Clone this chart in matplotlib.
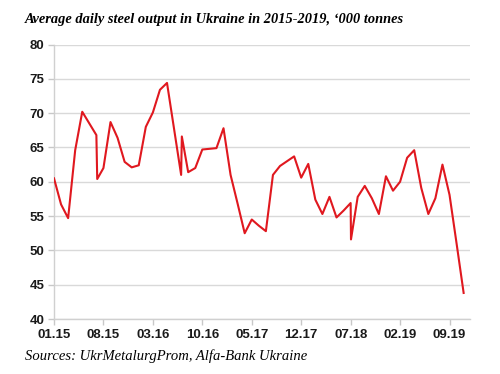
import matplotlib.pyplot as plt

# month offsets from 01.15 (a few months carry two readings, as in the source)
months = [0, 1, 2, 3, 4, 5, 6, 6.12, 7, 8, 9, 10, 11, 12, 13, 14, 15, 16, 17,
          18, 18.1, 19, 20, 21, 22, 23, 24, 25, 26, 27, 28, 29, 30, 31, 32,
          33, 34, 35, 36, 37, 38, 39, 40, 41, 42, 42.05, 43, 44, 45, 46, 47,
          48, 49, 50, 51, 52, 53, 54, 55, 56, 57, 58]
output = [60.5, 56.7, 54.7, 64.6, 70.2, 68.5, 66.8, 60.4, 62.0, 68.7, 66.4,
          62.9, 62.1, 62.4, 68.0, 70.1, 73.4, 74.4, 67.7,
          61.0, 66.6, 61.4, 62.0, 64.7, 64.8, 64.9, 67.8, 61.0, 56.8, 52.5,
          54.5, 53.6, 52.8, 61.0, 62.3, 63.0, 63.7, 60.6, 62.6, 57.4, 55.3,
          57.8, 54.8, 55.8, 56.9, 51.6, 57.8, 59.4, 57.6, 55.3, 60.8, 58.7,
          60.0, 63.5, 64.6, 59.1, 55.3, 57.6, 62.5, 58.1, 51.0, 43.8]

tick_pos = [0, 7, 14, 21, 28, 35, 42, 49, 56]
tick_labels = ['01.15', '08.15', '03.16', '10.16', '05.17', '12.17', '07.18', '02.19', '09.19']
y_ticks = [40, 45, 50, 55, 60, 65, 70, 75, 80]

fig = plt.figure(figsize=(5, 3.74), dpi=100)
ax = fig.add_axes([0.108, 0.147, 0.832, 0.734])

ax.plot(months, output, color='#e0181f', linewidth=1.5, zorder=3)

ax.set_xlim(0, 58.9)
ax.set_ylim(40, 80)
ax.set_yticks(y_ticks)
ax.set_xticks(tick_pos)
ax.set_xticklabels(tick_labels)
ax.grid(axis='y', color='#d9d9d9', linewidth=1)
ax.set_axisbelow(True)

for s in ['top', 'right']:
    ax.spines[s].set_visible(False)
for s in ['left', 'bottom']:
    ax.spines[s].set_color('#d0d0d0')
    ax.spines[s].set_linewidth(1)

ax.tick_params(axis='both', colors='#c8c8c8', length=4, width=1,
               labelcolor='#1a1a1a', labelsize=9.5)
ax.tick_params(axis='y', pad=3)
ax.tick_params(axis='x', pad=3)
for lab in ax.get_xticklabels() + ax.get_yticklabels():
    lab.set_fontweight('bold')
    lab.set_family('Liberation Sans')

fig.text(0.05, 0.948, 'Average daily steel output in Ukraine in 2015-2019, \u2018000 tonnes',
         family='Liberation Serif', fontstyle='italic', fontweight='bold',
         fontsize=10.4, va='center', ha='left')
fig.text(0.05, 0.048, 'Sources: UkrMetalurgProm, Alfa-Bank Ukraine',
         family='Liberation Serif', fontstyle='italic', fontsize=10.5,
         va='center', ha='left')

fig.savefig('out.png', dpi=100)
